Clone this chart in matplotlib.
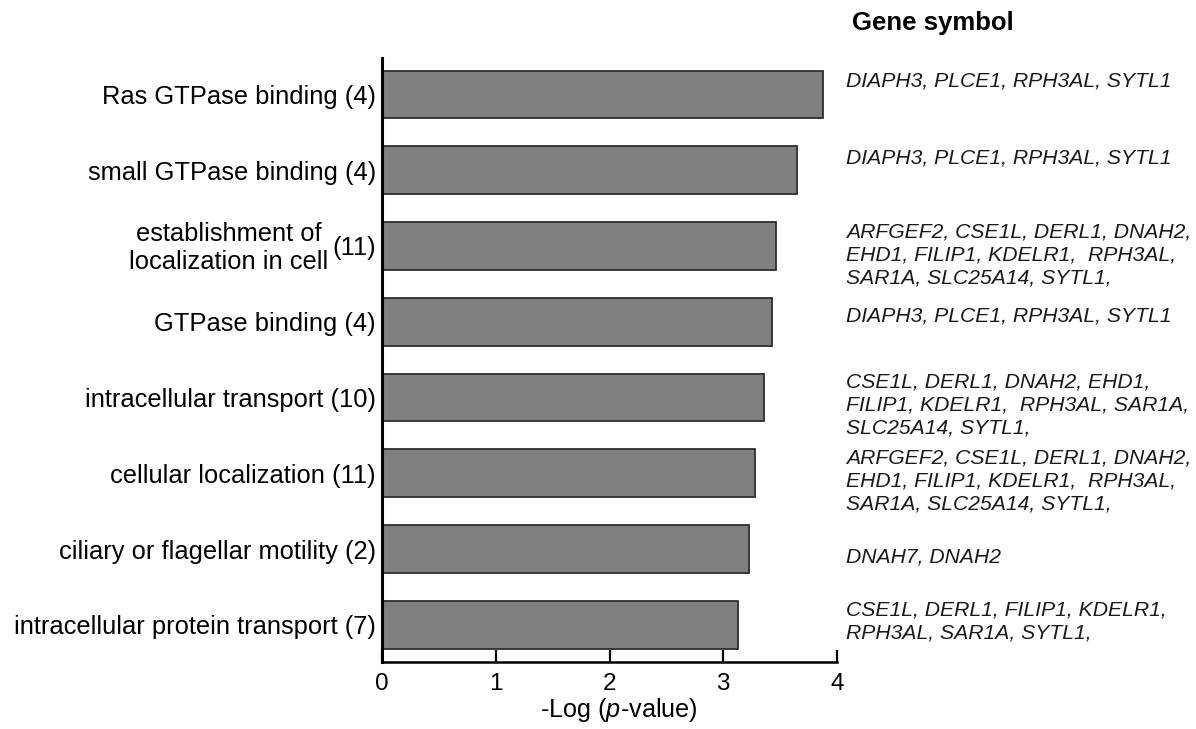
import matplotlib
matplotlib.use("Agg")
import matplotlib.pyplot as plt
import matplotlib.transforms as mtransforms

plt.rcParams['font.family'] = ['Liberation Sans', 'DejaVu Sans']
plt.rcParams['mathtext.fontset'] = 'custom'
plt.rcParams['mathtext.rm'] = 'Liberation Sans'
plt.rcParams['mathtext.it'] = 'Liberation Sans:italic'

# GO terms, top to bottom
terms = ["Ras GTPase binding (4)", "small GTPase binding (4)", "(11)",
         "GTPase binding (4)", "intracellular transport (10)",
         "cellular localization (11)", "ciliary or flagellar motility (2)",
         "intracellular protein transport (7)"]
term3_text = "establishment of\nlocalization in cell"
neglogp = [3.88, 3.65, 3.46, 3.43, 3.36, 3.28, 3.23, 3.13]
genes = [
    "DIAPH3, PLCE1, RPH3AL, SYTL1",
    "DIAPH3, PLCE1, RPH3AL, SYTL1",
    "ARFGEF2, CSE1L, DERL1, DNAH2,\nEHD1, FILIP1, KDELR1,  RPH3AL,\nSAR1A, SLC25A14, SYTL1,",
    "DIAPH3, PLCE1, RPH3AL, SYTL1",
    "CSE1L, DERL1, DNAH2, EHD1,\nFILIP1, KDELR1,  RPH3AL, SAR1A,\nSLC25A14, SYTL1,",
    "ARFGEF2, CSE1L, DERL1, DNAH2,\nEHD1, FILIP1, KDELR1,  RPH3AL,\nSAR1A, SLC25A14, SYTL1,",
    "DNAH7, DNAH2",
    "CSE1L, DERL1, FILIP1, KDELR1,\nRPH3AL, SAR1A, SYTL1,",
]
xticks = [0, 1, 2, 3, 4]

fig = plt.figure(figsize=(11.96, 7.29), dpi=100)
ax = fig.add_axes([382 / 1196, 1 - 662 / 729, (837 - 382) / 1196, (662 - 58) / 729])

ypos = list(range(len(terms)))
ax.barh(ypos, neglogp, height=0.63, color="#808080", edgecolor="#2e2e2e", linewidth=1.3)
ax.set_ylim(len(terms) - 0.51, -0.48)
ax.set_xlim(0, 4)

ax.set_yticks(ypos)
ax.set_yticklabels(terms, fontsize=18.4)
ax.tick_params(axis="y", length=0, pad=4.5)
ax.set_xticks(xticks)
ax.set_xticklabels([str(t) for t in xticks], fontsize=17.5)
ax.tick_params(axis="x", direction="in", length=9, width=1.6, pad=8)
ax.set_xlabel(r"-Log ($\it{p}$-value)", fontsize=18.2, labelpad=2)
ax.xaxis.set_label_coords(0.52, -0.057)

for s in ("top", "right"):
    ax.spines[s].set_visible(False)
ax.spines["left"].set_linewidth(2.2)
ax.spines["bottom"].set_linewidth(1.8)

# two-line label for third term, left of its "(11)"
off = mtransforms.offset_copy(ax.get_yaxis_transform(), fig=fig, x=-54, y=-2, units="dots")
ax.text(0, 2, term3_text, transform=off, ha="right", va="center", fontsize=18.4,
        multialignment="center", linespacing=1.2)

# gene symbols column
gene_shift = [-0.17, -0.16, 0.12, -0.08, 0.1, 0.1, 0.1, -0.04]
gtrans = mtransforms.blended_transform_factory(fig.transFigure, ax.transData)
for i, g in enumerate(genes):
    ax.text(846 / 1196, i + gene_shift[i], g, transform=gtrans, ha="left", va="center",
            fontsize=15.2, style="italic", linespacing=1.28, color="#1a1a1a")

fig.text(852 / 1196, 1 - 23 / 729, "Gene symbol", ha="left", va="center",
         fontsize=18.5, fontweight="bold")

fig.savefig("out.png", dpi=100)
